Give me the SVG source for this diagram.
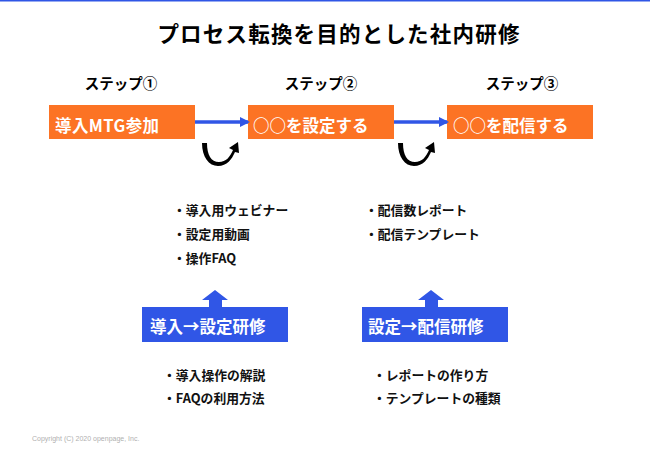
<svg xmlns="http://www.w3.org/2000/svg" width="650" height="450" viewBox="0 0 650 450">
<defs>
<style>
.jp{font-family:"Noto Sans CJK JP","Noto Sans",sans-serif;font-weight:bold;}
.title{font-size:21.5px;fill:#000;}
.step{font-size:14.5px;fill:#000;}
.obox{fill:#FC7324;}
.bbox{fill:#3056E6;}
.wt{font-size:16.5px;fill:#fff;}
.li{font-size:12.8px;fill:#111;}
.copy{font-family:"Liberation Sans",Arial,sans-serif;font-size:7px;fill:#b0b0b0;}
</style>
<marker id="ah" markerWidth="10" markerHeight="10" refX="8" refY="5" orient="auto" markerUnits="userSpaceOnUse">
<path d="M0,0 L10,5 L0,10 Z" fill="#3056E6"/>
</marker>
<path id="uarrow" d="M0,0 C0,14 7,23 16,23 C25,23 30,16 33,9 L37,10 L36,-1 L27,5 L31,7 C28,14 24,19 17,19 C9,19 5,12 5,0 Z" fill="#000"/>
<path id="uparrow" d="M13,0 L26,10 L20,10 L20,18 L7,18 L7,10 L0,10 Z" fill="#3056E6"/>
</defs>
<rect x="0" y="0" width="650" height="450" fill="#fff"/>
<rect x="0" y="0" width="650" height="1.5" fill="#3056E6"/>

<text class="jp title" x="339" y="42" text-anchor="middle" letter-spacing="1.2">プロセス転換を目的とした社内研修</text>

<g id="step1">
<text class="jp step" x="121" y="89" text-anchor="middle">ステップ①</text>
<rect class="obox" x="49" y="105" width="146" height="34"/>
<text class="jp wt" x="55" y="132" letter-spacing="0.4">導入MTG参加</text>
</g>
<g id="step2">
<text class="jp step" x="321" y="89" text-anchor="middle">ステップ②</text>
<rect class="obox" x="248" y="105" width="146" height="34"/>
<text class="jp wt" x="253" y="132">○○を設定する</text>
</g>
<g id="step3">
<text class="jp step" x="522" y="89" text-anchor="middle">ステップ③</text>
<rect class="obox" x="447" y="105" width="146" height="34"/>
<text class="jp wt" x="453" y="132">○○を配信する</text>
</g>

<g id="list1">
<text class="jp li" x="173" y="215">・導入用ウェビナー</text>
<text class="jp li" x="173" y="239">・設定用動画</text>
<text class="jp li" x="173" y="263">・操作FAQ</text>
</g>
<g id="list2">
<text class="jp li" x="365" y="215">・配信数レポート</text>
<text class="jp li" x="365" y="239">・配信テンプレート</text>
</g>

<g id="training1">
<rect class="bbox" x="142" y="307" width="146" height="35"/>
<text class="jp wt" x="150" y="333">導入→設定研修</text>
</g>
<g id="training2">
<rect class="bbox" x="362" y="307" width="146" height="35"/>
<text class="jp wt" x="368" y="333">設定→配信研修</text>
</g>

<g id="list3">
<text class="jp li" x="163" y="380">・導入操作の解説</text>
<text class="jp li" x="163" y="403">・FAQの利用方法</text>
</g>
<g id="list4">
<text class="jp li" x="373" y="380">・レポートの作り方</text>
<text class="jp li" x="373" y="403">・テンプレートの種類</text>
</g>

<g id="connectors">
<line x1="195" y1="122" x2="248" y2="122" stroke="#3056E6" stroke-width="3.5" marker-end="url(#ah)"/>
<line x1="394" y1="122" x2="447" y2="122" stroke="#3056E6" stroke-width="3.5" marker-end="url(#ah)"/>
<use href="#uarrow" x="202" y="143"/>
<use href="#uarrow" x="398" y="143"/>
<use href="#uparrow" x="202" y="290"/>
<use href="#uparrow" x="418" y="290"/>
</g>

<text class="copy" x="32" y="441">Copyright (C) 2020 openpage, Inc.</text>
</svg>
